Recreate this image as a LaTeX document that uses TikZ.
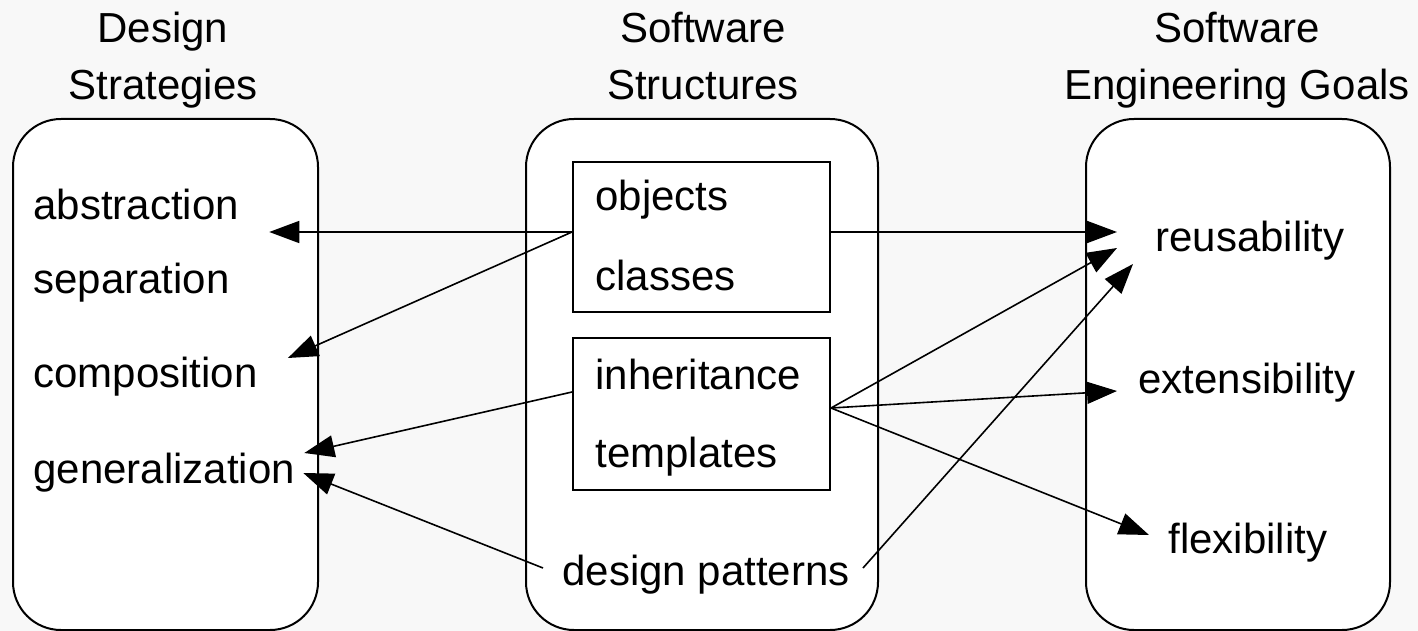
\documentclass[tikz,border=0pt]{standalone}
\usepackage{fontspec}
\setmainfont{Liberation Sans}
\usetikzlibrary{arrows.meta}
\usetikzlibrary{calc}
\usetikzlibrary{positioning}
\definecolor{pagegray}{HTML}{F8F8F8}

\begin{document}
\begin{tikzpicture}[x=0.5pt, y=-0.5pt,
every node/.style={inner sep=0pt, font=\fontsize{21}{28.5}\selectfont},
item/.style={anchor=base west},
title/.style={align=center, anchor=base},
column/.style={draw, line width=1pt, fill=white, rounded corners=24pt},
group/.style={draw, line width=1pt, fill=white},
arr/.style={-{Triangle[length=15pt, width=11pt]}, line width=0.8pt}]
\fill[pagegray] (0,0) rectangle (1418,631);
\useasboundingbox (0,0) rectangle (1418,631);

% columns
\draw[column] (13,119) rectangle (318,630);
\draw[column] (526,119) rectangle (878,630);
\draw[column] (1086,119) rectangle (1390,630);

\node[title] (ds) at (163,100) {Design\\Strategies};
\node[title] (ss) at (703,100) {Software\\Structures};
\node[title] (eg) at (1237,100) {Software\\Engineering Goals};

% boxes in the middle column
\node[group, minimum width=128.5pt, minimum height=75pt] (oc) at (701.5,237) {};
\node[group, minimum width=128.5pt, minimum height=76pt] (it) at (701.5,414) {};

\node[item] (abs) at (33,219) {abstraction};
\node[item] (sep) at (33,293) {separation};
\node[item] (comp) at (33,387) {composition};
\node[item] (gen) at (33,483) {generalization};

\node[item] (obj) at (595,210) {objects};
\node[item] (cls) at (595,290) {classes};
\node[item] (inh) at (595,389) {inheritance};
\node[item] (tmpl) at (595,467) {templates};
\node[item] (dp) at (562,585) {design patterns};

\node[item] (reu) at (1155,251) {reusability};
\node[item] (ext) at (1138,393) {extensibility};
\node[item] (flex) at (1168,553) {flexibility};

% arrows
\draw[arr] ($(oc.west)+(0,-5)$) -- ($(abs.base east)+(30,13)$);
\draw[arr] ($(oc.west)+(0,-5)$) -- ($(comp.base east)+(30,-29)$);
\draw[arr] ($(oc.east)+(0,-5)$) -- ($(reu.base west)+(-38,-19)$);
\draw[arr] ($(it.west)+(0,-22)$) -- ($(gen.base east)+(9,-30)$);
\draw[arr] ($(dp.base west)+(-19,-17)$) -- ($(gen.base east)+(8,-10)$);
\draw[arr] ($(it.east)+(0,-6)$) -- ($(reu.base west)+(-38,-3)$);
\draw[arr] ($(it.east)+(0,-6)$) -- ($(ext.base west)+(-21,-2)$);
\draw[arr] ($(it.east)+(0,-6)$) -- ($(flex.base west)+(-19,-18)$);
\draw[arr] ($(dp.base east)+(13,-17)$) -- ($(reu.base west)+(-22,13)$);
\end{tikzpicture}
\end{document}
